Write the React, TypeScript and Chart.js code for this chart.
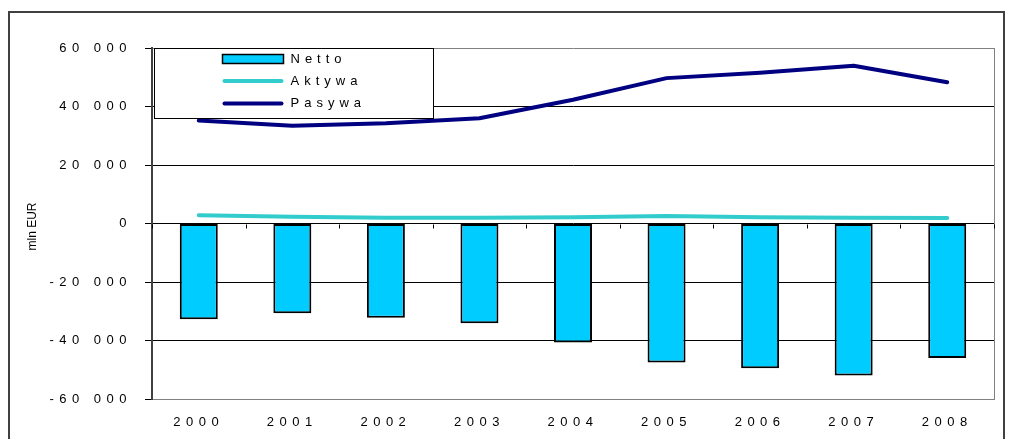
import React, { useEffect, useRef } from "react";
import { Chart, registerables } from "chart.js";

Chart.register(...registerables);

const categories = ["2000", "2001", "2002", "2003", "2004", "2005", "2006", "2007", "2008"];
const nettoValues = [-32700, -30700, -32200, -34100, -40700, -47500, -49500, -52000, -46000];
const aktywaValues = [2800, 2300, 2000, 2000, 2100, 2600, 2100, 2000, 1900];
const pasywaValues = [35200, 33400, 34300, 36000, 42300, 49700, 51500, 53900, 48300];
const seriesLabels = ["Netto", "Aktywa", "Pasywa"];
const yAxisTitle = "mln EUR";
const yMin = -60000;
const yMax = 60000;
const yStep = 20000;

const FONT = "'Liberation Sans', Arial, Helvetica, sans-serif";
const W = 997;
const H = 431;

function formatTick(v: number): string {
  if (v === 0) return "0";
  const sign = v < 0 ? "-" : "";
  const a = Math.abs(v);
  const th = Math.floor(a / 1000);
  const rest = String(a % 1000).padStart(3, "0");
  return `${sign}${th} ${rest}`;
}

const decorPlugin = {
  id: "decor",
  beforeDraw(chart: any) {
    const ctx = chart.ctx;
    ctx.letterSpacing = "5.5px";
    // outer frame
    ctx.save();
    ctx.letterSpacing = "0px";
    ctx.strokeStyle = "#404040";
    ctx.lineWidth = 2;
    ctx.beginPath();
    ctx.moveTo(1, H);
    ctx.lineTo(1, 4);
    ctx.lineTo(W - 1, 4);
    ctx.lineTo(W - 1, H);
    ctx.stroke();
    ctx.restore();
  },
  beforeDatasetsDraw(chart: any) {
    const ctx = chart.ctx;
    const { right, top, bottom } = chart.chartArea;
    const xs = chart.scales.x;
    const ys = chart.scales.y;
    ctx.save();
    // right frame
    ctx.strokeStyle = "#808080";
    ctx.lineWidth = 1;
    ctx.beginPath();
    ctx.moveTo(Math.round(right) + 0.5, top);
    ctx.lineTo(Math.round(right) + 0.5, bottom);
    ctx.stroke();
    // category boundary ticks on zero line
    const y0 = Math.round(ys.getPixelForValue(0)) + 0.5;
    const step = xs.getPixelForValue(1) - xs.getPixelForValue(0);
    ctx.strokeStyle = "#000";
    ctx.beginPath();
    for (let i = 0; i <= categories.length; i++) {
      const x = Math.round(xs.getPixelForValue(i) - step / 2) + 0.5;
      ctx.moveTo(x, y0);
      ctx.lineTo(x, y0 + 4);
    }
    ctx.stroke();
    ctx.restore();
  },
  afterDraw(chart: any) {
    const ctx = chart.ctx;
    const { left, top, bottom } = chart.chartArea;
    ctx.save();
    // y axis title
    ctx.letterSpacing = "0px";
    ctx.fillStyle = "#000";
    ctx.font = `12px ${FONT}`;
    ctx.textAlign = "center";
    ctx.textBaseline = "middle";
    ctx.translate(25, (top + bottom) / 2 + 3);
    ctx.rotate(-Math.PI / 2);
    ctx.fillText(yAxisTitle, 0, 0);
    ctx.restore();

    // legend
    const ds = chart.data.datasets;
    const bx = Math.round(left) + 2.5;
    const by = Math.round(top) + 0.5;
    const bw = 279;
    const bh = 70;
    ctx.save();
    ctx.fillStyle = "#fff";
    ctx.fillRect(bx, by, bw, bh);
    ctx.strokeStyle = "#000";
    ctx.lineWidth = 1;
    ctx.strokeRect(bx, by, bw, bh);
    const rowsY = [10.5, 32.5, 55];
    const symX = bx + 68;
    const symW = 61;
    const textX = bx + 136;
    ctx.font = `13px ${FONT}`;
    ctx.textBaseline = "middle";
    ctx.textAlign = "left";
    ctx.letterSpacing = "5px";
    ds.forEach((d: any, i: number) => {
      const cy = by + rowsY[i];
      if (d.type === "line") {
        ctx.strokeStyle = d.borderColor;
        ctx.lineWidth = 4;
        ctx.lineCap = "round";
        ctx.beginPath();
        ctx.moveTo(symX + 2, cy);
        ctx.lineTo(symX + symW - 2, cy);
        ctx.stroke();
      } else {
        ctx.fillStyle = d.backgroundColor;
        ctx.fillRect(symX, cy - 4.5, symW, 9);
        ctx.strokeStyle = "#000";
        ctx.lineWidth = 1.5;
        ctx.strokeRect(symX, cy - 4.5, symW, 9);
      }
      ctx.fillStyle = "#000";
      ctx.fillText(d.label, textX, cy);
    });
    ctx.restore();
    ctx.letterSpacing = "0px";
  },
};

export default function App() {
  const ref = useRef<HTMLCanvasElement | null>(null);
  useEffect(() => {
    if (!ref.current) return;
    const chart = new Chart(ref.current, {
      type: "bar",
      data: {
        labels: categories,
        datasets: [
          {
            type: "bar",
            label: seriesLabels[0],
            data: nettoValues,
            backgroundColor: "#00CCFF",
            borderColor: "#000000",
            borderWidth: 2,
            borderSkipped: false,
            barPercentage: 1,
            categoryPercentage: 0.406,
            order: 3,
          } as any,
          {
            type: "line",
            label: seriesLabels[1],
            data: aktywaValues,
            borderColor: "#33CCCC",
            backgroundColor: "#33CCCC",
            borderWidth: 4,
            pointRadius: 0,
            tension: 0,
            borderCapStyle: "round",
            borderJoinStyle: "round",
            order: 2,
          } as any,
          {
            type: "line",
            label: seriesLabels[2],
            data: pasywaValues,
            borderColor: "#000080",
            backgroundColor: "#000080",
            borderWidth: 4,
            pointRadius: 0,
            tension: 0,
            borderCapStyle: "round",
            borderJoinStyle: "round",
            order: 1,
          } as any,
        ],
      },
      options: {
        responsive: false,
        animation: false,
        devicePixelRatio: 1,
        layout: { padding: { left: 0, right: W - 986, top: 40, bottom: 0 } },
        plugins: {
          legend: { display: false },
          tooltip: { enabled: false },
          title: { display: false },
        },
        scales: {
          x: {
            type: "category",
            offset: true,
            grid: { display: false, drawTicks: false },
            border: { display: true, color: "#808080", width: 1 },
            ticks: {
              autoSkip: false,
              maxRotation: 0,
              minRotation: 0,
              padding: 16,
              color: "#000",
              font: { family: FONT, size: 13 },
            },
            afterFit: (s: any) => {
              s.height = H - 391;
            },
          },
          y: {
            min: yMin,
            max: yMax,
            ticks: {
              stepSize: yStep,
              padding: 13,
              color: "#000",
              font: { family: FONT, size: 13 },
              callback: (v: any) => formatTick(Number(v)),
            },
            grid: {
              color: (c: any) =>
                c.tick && (c.tick.value === yMax || c.tick.value === yMin) ? "#808080" : "#000000",
              lineWidth: 1,
              tickColor: "#000000",
              tickLength: 7,
              drawTicks: true,
            },
            border: { display: true, color: "#404040", width: 2 },
            afterFit: (s: any) => {
              s.width = 144;
            },
          },
        },
      } as any,
      plugins: [decorPlugin as any],
    });
    return () => chart.destroy();
  }, []);
  return (
    <div style={{ width: W, height: H }}>
      <canvas ref={ref} width={W} height={H} style={{ display: "block" }} />
    </div>
  );
}
